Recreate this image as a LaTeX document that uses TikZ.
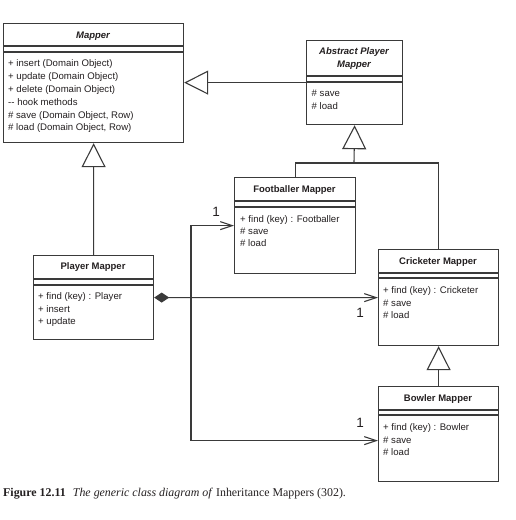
\documentclass[tikz,border=0pt]{standalone}
\usepackage{fontspec}
\setmainfont{Liberation Serif}
\newfontfamily\umlfont{Liberation Sans}
\usetikzlibrary{arrows.meta}
\definecolor{ink}{HTML}{231F20}
\definecolor{edge}{HTML}{3A3A3A}
\tikzset{
  cls/.style={draw=edge, line width=1.2bp, fill=white, inner sep=0, anchor=north west},
  sep/.style={draw=edge, line width=1.2bp},
  optext/.style={font=\umlfont\fontsize{9.6bp}{12bp}\selectfont, text=ink, inner sep=0, anchor=base west},
  ttl/.style={font=\umlfont\bfseries\fontsize{9.5bp}{12.6bp}\selectfont, text=ink, inner sep=0, anchor=base},
  ttlit/.style={ttl, font=\umlfont\bfseries\itshape\fontsize{9.5bp}{12.6bp}\selectfont},
  mult/.style={font=\umlfont\fontsize{13.5bp}{13.5bp}\selectfont, text=ink, inner sep=0},
  link/.style={draw=edge, line width=1.1bp},
  gen/.style={link, -{Triangle[length=24bp,width=24bp,fill=white,line width=1.1bp]}},
  assoc/.style={link, -{Straight Barb[length=12bp,width=8bp,line width=1.1bp]}},
  comp/.style={link, {Diamond[length=15bp,width=10bp,fill=edge,line width=1.1bp]}-{Straight Barb[length=12bp,width=8bp,line width=1.1bp]}},
  capt/.style={font=\fontsize{11.9bp}{13bp}\selectfont, text=ink, inner sep=0, anchor=base west},
}
\begin{document}
\begin{tikzpicture}[x=1bp, y=-1bp]
\useasboundingbox (0,0) rectangle (516,520);

% ---- class boxes ----
\node[cls, minimum width=180bp, minimum height=119bp] (mapper) at (3,23) {};
\node[cls, minimum width=96bp,  minimum height=84bp]  (abstract) at (306,40) {};
\node[cls, minimum width=121bp, minimum height=96bp]  (footballer) at (234,177) {};
\node[cls, minimum width=120bp, minimum height=84bp]  (player) at (33,255) {};
\node[cls, minimum width=120bp, minimum height=96bp]  (cricketer) at (378,249) {};
\node[cls, minimum width=120bp, minimum height=95bp]  (bowler) at (378,386) {};

% ---- compartment separators ----
\foreach \b/\ya/\yb in {mapper/46/52, abstract/76/82, footballer/201/207,
                        player/279/285, cricketer/273/278, bowler/410/415} {
  \draw[sep] (\b.west |- 0,\ya) -- (\b.east |- 0,\ya);
  \draw[sep] (\b.west |- 0,\yb) -- (\b.east |- 0,\yb);
}

% ---- class names ----
\node[ttlit] (mapper-title) at (93,38.5) {Mapper};
\node[ttlit] (abstract-title1) at (354,55) {Abstract Player};
\node[ttlit] (abstract-title2) at (354,68) {Mapper};
\node[ttl] (footballer-title) at (294.5,192.5) {Footballer Mapper};
\node[ttl] (player-title) at (93,269.5) {Player Mapper};
\node[ttl] (cricketer-title) at (438,264) {Cricketer Mapper};
\node[ttl] (bowler-title) at (438,401) {Bowler Mapper};

% ---- operations ----
\foreach \t [count=\i] in {{+ insert (Domain Object)}, {+ update (Domain Object)},
    {+ delete (Domain Object)}, {-- hook methods}, {\# save (Domain Object, Row)},
    {\# load (Domain Object, Row)}}
  \node[optext] (mapper-op\i) at (8, 66.5+12.9*\i-12.9) {\t};
\foreach \t [count=\i] in {{\# save}, {\# load}}
  \node[optext] (abstract-op\i) at (311.5, 96.5+13.4*\i-13.4) {\t};
\foreach \t [count=\i] in {{+ find (key) : Footballer}, {\# save}, {\# load}}
  \node[optext] (footballer-op\i) at (240, 222+12.2*\i-12.2) {\t};
\foreach \t [count=\i] in {{+ find (key) : Player}, {+ insert}, {+ update}}
  \node[optext] (player-op\i) at (38, 299.7+12.5*\i-12.5) {\t};
\foreach \t [count=\i] in {{+ find (key) : Cricketer}, {\# save}, {\# load}}
  \node[optext] (cricketer-op\i) at (383, 293.7+12.5*\i-12.5) {\t};
\foreach \t [count=\i] in {{+ find (key) : Bowler}, {\# save}, {\# load}}
  \node[optext] (bowler-op\i) at (383, 430.7+12.3*\i-12.3) {\t};

% ---- generalisations ----
\draw[gen] (abstract.west) -- (abstract.west -| mapper.east);
\draw[gen] (player.north) -- (mapper.south);
\coordinate (junc) at (354,163);
\draw[gen] (junc) -- (abstract.south);
\draw[link] (footballer.north) |- (junc) -| (cricketer.north);
\draw[gen] (bowler.north) -- (cricketer.south);

% ---- associations ----
\coordinate (branch) at (191,297);
\draw[comp] (player.east) -- (cricketer.west);
\draw[assoc] (branch) |- (footballer.west);
\draw[assoc] (branch) |- ([yshift=-6.5bp]bowler.west);

% ---- multiplicities ----
\node[mult] (mult-f) at (216,212) {1};
\node[mult] (mult-c) at (360,313) {1};
\node[mult] (mult-b) at (360,423) {1};

% ---- caption ----
\node[capt] (caption) at (3,496) {\textbf{Figure 12.11}\hspace{0.6em}\textit{The generic class diagram of} Inheritance Mappers (302).};
\end{tikzpicture}
\end{document}
